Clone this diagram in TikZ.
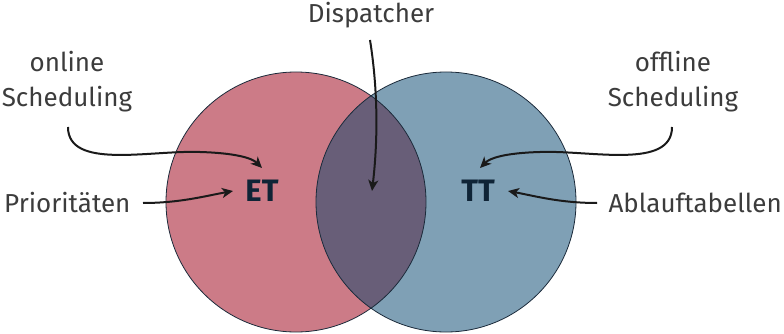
\documentclass[tikz,border=0pt]{standalone}
\usepackage{fontspec}
\setmainfont{Fira Sans}
\usetikzlibrary{arrows.meta}
\definecolor{etfill}{HTML}{CC7B87}
\definecolor{ttfill}{HTML}{7FA0B5}
\definecolor{mixfill}{HTML}{685E78}
\definecolor{rim}{HTML}{1B2A3A}
\definecolor{labelgray}{HTML}{3C3C3C}
\definecolor{setnavy}{HTML}{0F2436}
\definecolor{arrowink}{HTML}{1A1A1A}
\tikzset{
  lbl/.style={font=\fontsize{26}{35}\selectfont, text=labelgray, inner sep=0pt, align=center},
  setname/.style={font=\fontsize{31}{36}\selectfont\bfseries, text=setnavy, inner sep=0pt},
  arr/.style={draw=arrowink, line width=2pt, -{Stealth[length=11pt, width=10pt, inset=3pt]}},
  rimline/.style={draw=rim, line width=0.8pt}
}
\begin{document}
\begin{tikzpicture}[x=1pt, y=-1pt]
\useasboundingbox (0,0) rectangle (784,334);
% the two sets and their intersection
\coordinate (cL) at (296,202);
\coordinate (cR) at (446,202);
\fill[etfill] (cL) circle[radius=130pt];
\fill[ttfill] (cR) circle[radius=130pt];
\begin{scope}
  \clip (cL) circle[radius=130pt];
  \fill[mixfill] (cR) circle[radius=130pt];
\end{scope}
\draw[rimline] (cL) circle[radius=130pt];
\draw[rimline] (cR) circle[radius=130pt];
% set names
\node[setname] (et) at (262,191) {ET};
\node[setname] (tt) at (478,191) {TT};
% labels
\node[lbl] (onl) at (67,82) {online\\Scheduling};
\node[lbl] (offl) at (673,82) {offline\\Scheduling};
\node[lbl, anchor=west] (prio) at (4,203) {Prioritäten};
\node[lbl, anchor=east] (abl) at (782,203) {Ablauftabellen};
\node[lbl] (disp) at (371,15) {Dispatcher};
% arrow end points next to the labels and set names
\coordinate (onlS) at (68,127);
\coordinate (offlS) at (672,127);
\coordinate (prioE) at (143,203);
\coordinate (ablW) at (597,203);
\coordinate (dispS) at (370,40);
\coordinate (etIn) at (262,168);
\coordinate (ttIn) at (480,168);
\coordinate (etW) at (233,191);
\coordinate (ttE) at (508,191);
\coordinate (dispEnd) at (372,191);
% arrows
\draw[arr] (onlS) .. controls (68,170) and (150,150) .. (200,152)
  .. controls (235,153) and (252,158) .. (etIn);
\draw[arr] (offlS) .. controls (672,170) and (590,150) .. (540,152)
  .. controls (505,153) and (490,158) .. (ttIn);
\draw[arr] (prioE) .. controls (180,203) and (205,196) .. (etW);
\draw[arr] (ablW) .. controls (560,203) and (535,196) .. (ttE);
\draw[arr] (dispS) .. controls (378,90) and (378,140) .. (dispEnd);
\end{tikzpicture}
\end{document}
